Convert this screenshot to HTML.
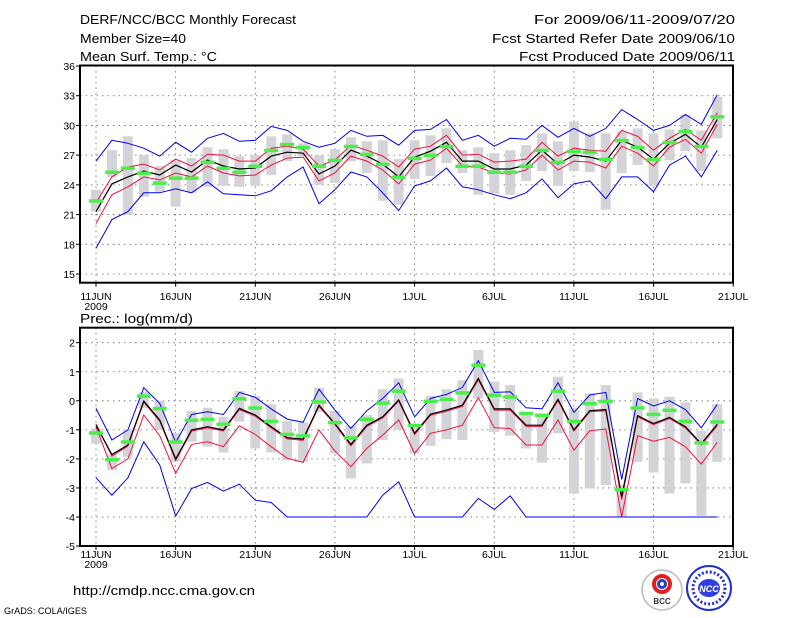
<!DOCTYPE html>
<html><head><meta charset="utf-8"><style>
html,body{margin:0;padding:0;background:#fff;}
svg{display:block;font-family:"Liberation Sans",sans-serif;}
</style></head><body>
<svg id="chart" width="800" height="618" viewBox="0 0 800 618" xmlns="http://www.w3.org/2000/svg">
<rect width="800" height="618" fill="#fff"/>
<g font-size="12.5" fill="#000">
<text x="80" y="24" textLength="216" lengthAdjust="spacingAndGlyphs">DERF/NCC/BCC Monthly Forecast</text>
<text x="80" y="43" textLength="106" lengthAdjust="spacingAndGlyphs">Member Size=40</text>
<text x="80" y="61" textLength="137" lengthAdjust="spacingAndGlyphs">Mean Surf. Temp.: °C</text>
<text x="735" y="24" text-anchor="end" textLength="201" lengthAdjust="spacingAndGlyphs">For 2009/06/11-2009/07/20</text>
<text x="735" y="43" text-anchor="end" textLength="243" lengthAdjust="spacingAndGlyphs">Fcst Started Refer Date 2009/06/10</text>
<text x="735" y="61" text-anchor="end" textLength="216" lengthAdjust="spacingAndGlyphs">Fcst Produced Date 2009/06/11</text>
</g>
<text x="80" y="323" font-size="12.5" textLength="113" lengthAdjust="spacingAndGlyphs">Prec.: log(mm/d)</text>
<g id="top"></g>
<g id="bot"></g>
<text x="73" y="595" font-size="12.5" textLength="182" lengthAdjust="spacingAndGlyphs">http://cmdp.ncc.cma.gov.cn</text>
<text x="4" y="614" font-size="9.5" textLength="83" lengthAdjust="spacingAndGlyphs">GrADS: COLA/IGES</text>
<g>
<circle cx="662" cy="590" r="20" fill="#fff" stroke="#bbb" stroke-width="1.5"/>
<circle cx="662" cy="584" r="8" fill="none" stroke="#e02020" stroke-width="4"/>
<circle cx="662" cy="584" r="3.5" fill="none" stroke="#2040c0" stroke-width="3"/>
<text x="662" y="604" font-size="8" font-weight="bold" text-anchor="middle" fill="#333">BCC</text>
</g>
<g>
<circle cx="709" cy="588" r="22" fill="#fff" stroke="#2030d0" stroke-width="2"/>
<circle cx="709" cy="588" r="16" fill="none" stroke="#2030d0" stroke-width="3" stroke-dasharray="2 2"/>
<ellipse cx="709" cy="588" rx="11" ry="9" fill="#3040e0"/>
<text x="709" y="592" font-size="9" font-weight="bold" font-style="italic" text-anchor="middle" fill="#fff">NCC</text>
</g>
</svg>
<script>
// ---------- temperature data (days 0..39 from 11 Jun) ----------
const tBlueHi=[26.4,28.5,28.2,27.7,26.9,28.3,27.3,28.7,29.2,28.4,28.5,29.9,29.5,28.4,27.8,28.2,29.5,28.9,29.0,28.0,29.5,29.6,30.6,28.5,29.0,27.9,28.7,28.6,30.0,28.8,29.7,28.9,29.7,31.6,30.6,29.5,30.0,31.1,30.1,33.1];
const tBlueLo=[17.6,20.5,21.3,23.2,23.2,23.6,23.2,24.3,23.1,23.0,22.9,23.4,24.8,25.8,22.1,23.5,25.3,24.8,23.2,21.4,23.9,24.4,25.7,23.8,23.5,23.0,22.6,23.2,24.6,22.7,24.1,24.4,22.6,24.8,24.8,23.3,26.0,26.9,24.8,27.5];
const tMean=[21.3,24.1,24.8,25.4,25.0,26.0,25.3,26.5,25.9,25.6,25.7,26.9,27.3,27.2,25.1,25.9,27.5,26.9,26.1,24.8,26.8,27.4,28.3,26.4,26.4,25.6,25.6,26.0,27.5,26.1,27.0,26.8,26.4,28.5,27.8,26.6,28.2,29.1,27.8,30.6];
const tRedHi=[22.2,24.8,25.8,26.1,25.5,26.6,25.9,27.1,27.0,26.4,26.4,27.7,27.9,27.6,25.9,26.5,28.0,27.5,26.9,25.8,27.6,27.9,29.0,27.0,27.1,26.3,26.4,26.6,28.3,26.9,27.7,27.5,27.4,29.5,28.9,27.5,28.7,29.6,28.5,31.3];
const tRedLo=[20.1,23.0,23.8,24.8,24.5,25.2,24.8,25.9,25.2,24.9,25.0,26.0,26.7,26.8,24.4,25.2,26.9,26.4,25.5,24.1,26.1,26.5,27.7,25.9,25.8,25.2,25.1,25.5,27.0,25.5,26.4,26.3,25.7,27.9,27.2,25.9,27.8,28.6,27.2,30.1];
const tObs=[22.4,25.3,25.7,25.2,24.2,24.7,24.7,26.3,25.7,25.3,25.9,27.5,28.1,27.8,25.9,26.5,27.9,27.1,26.1,24.8,26.7,27.0,27.9,25.9,25.9,25.3,25.3,25.9,27.5,26.3,27.4,27.3,26.6,28.5,27.8,26.6,28.3,29.4,27.9,30.9];
const tBarHi=[23.5,27.5,28.9,27.0,25.9,26.5,26.7,27.8,27.6,26.9,27.0,28.9,29.1,28.2,27.0,27.6,28.8,28.4,28.5,26.6,28.5,29.0,29.7,27.5,27.8,27.2,27.5,28.0,29.2,28.4,30.4,29.2,29.2,29.4,29.7,29.2,29.6,31.1,29.5,32.9];
const tBarLo=[21.3,24.8,21.0,22.8,23.3,21.8,23.2,23.8,23.9,23.8,23.9,25.0,26.4,26.9,24.0,24.2,26.4,25.2,22.4,22.0,24.6,24.9,26.2,25.2,23.0,23.1,23.0,24.4,25.4,23.9,25.4,25.3,21.5,25.2,26.0,23.9,26.5,27.4,25.4,28.7];
const tTicks=[15,18,21,24,27,30,33,36];
// ---------- precipitation data ----------
const pBlueHi=[-0.26,-1.35,-1.0,0.45,-0.09,-1.43,-0.47,-0.38,-0.47,0.29,0.12,-0.28,-0.63,-0.74,0.40,-0.32,-0.95,-0.34,0.08,0.62,-0.55,0.08,0.22,0.46,1.38,0.29,0.31,-0.24,-0.28,0.62,-0.40,0.20,0.29,-2.71,0.08,-0.18,0.0,-0.30,-0.93,-0.12];
const pBlueLo=[-2.65,-3.25,-2.65,-1.41,-2.21,-3.97,-3.02,-2.81,-3.11,-2.87,-3.42,-3.50,-4,-4,-4,-4,-4,-4,-3.25,-2.79,-4,-4,-4,-4,-3.36,-3.74,-3.27,-4,-4,-4,-4,-4,-4,-4,-4,-4,-4,-4,-4,-4];
const pMean=[-0.84,-1.85,-1.52,-0.01,-0.66,-2.0,-1.0,-0.89,-1.0,-0.26,-0.49,-0.89,-1.27,-1.32,-0.15,-0.78,-1.50,-0.84,-0.55,0.03,-1.12,-0.46,-0.32,-0.15,0.77,-0.28,-0.28,-0.84,-0.84,0.05,-1.0,-0.34,-0.30,-3.30,-0.51,-0.78,-0.57,-0.89,-1.47,-0.81];
const pRedHi=[-0.80,-1.90,-1.56,-0.05,-0.70,-2.05,-1.04,-0.93,-1.04,-0.30,-0.53,-0.93,-1.31,-1.36,-0.19,-0.82,-1.55,-0.88,-0.59,-0.01,-1.16,-0.50,-0.36,-0.19,0.72,-0.32,-0.32,-0.88,-0.88,0.01,-1.04,-0.38,-0.34,-3.4,-0.55,-0.82,-0.61,-0.93,-1.52,-0.85];
const pRedLo=[-0.9,-2.33,-2.0,-0.49,-1.2,-2.5,-1.5,-1.41,-1.58,-0.86,-1.16,-1.58,-1.98,-2.12,-1.0,-1.73,-2.27,-1.64,-1.18,-0.66,-1.81,-1.12,-1.0,-0.84,0.11,-0.93,-0.95,-1.52,-1.52,-0.66,-1.70,-1.03,-0.97,-4.0,-1.2,-1.39,-1.26,-1.58,-2.18,-1.43];
const pObs=[-1.1,-2.02,-1.41,0.17,-0.26,-1.41,-0.66,-0.63,-0.8,0.08,-0.24,-0.70,-1.15,-1.2,-0.03,-0.74,-1.27,-0.63,-0.07,0.34,-0.84,-0.01,0.06,0.28,1.23,0.2,0.14,-0.43,-0.49,0.34,-0.70,-0.09,-0.01,-3.05,-0.24,-0.46,-0.32,-0.70,-1.44,-0.72];
const pBarHi=[-0.95,-1.87,-1.0,0.31,0.0,-1.12,-0.35,-0.24,-0.55,0.34,0.16,-0.12,-0.70,-0.74,0.45,-0.35,-0.86,-0.49,0.40,0.77,-0.89,0.17,0.40,0.71,1.75,0.66,0.54,-0.38,-0.49,0.83,-0.26,0.25,0.54,-2.9,0.29,0.08,0.14,-0.05,-1.04,-0.12];
const pBarLo=[-1.47,-2.39,-1.93,-0.26,-1.0,-2.1,-1.41,-1.58,-1.78,-0.72,-1.64,-1.78,-2.04,-2.1,-0.38,-1.81,-2.67,-2.16,-1.35,-1.0,-1.81,-1.55,-1.32,-1.35,0.08,-1.07,-1.2,-1.64,-2.13,-1.12,-3.19,-3.02,-2.9,-4.0,-2.10,-2.47,-3.19,-2.84,-3.96,-2.1];
const pTicks=[-5,-4,-3,-2,-1,0,1,2];
const xTickDays=[0,5,10,15,20,25,30,35,40];
const xTickLabels=["11JUN","16JUN","21JUN","26JUN","1JUL","6JUL","11JUL","16JUL","21JUL"];

const NS="http://www.w3.org/2000/svg";
const X0=80,X1=733;
function xS(d){return 96+d*15.93;}
function mk(parent,tag,attrs){const e=document.createElementNS(NS,tag);for(const k in attrs)e.setAttribute(k,attrs[k]);parent.appendChild(e);return e;}

function panel(g,cfg){
  const {yS,top,bot,ticks,barHi,barLo,obs,blueHi,blueLo,redHi,redLo,mean,lblY,prefix}=cfg;
  ticks.forEach(t=>{const y=yS(t);
    const l=mk(g,'line',{x1:X0,x2:X1,y1:y,y2:y,stroke:'#666','stroke-width':0.8,'stroke-dasharray':'1.5 4'});
    
    
    mk(g,'line',{x1:X0-4,x2:X0,y1:y,y2:y,stroke:'#000'});
    const tx=mk(g,'text',{x:X0-5,y:y+4,'font-size':10.5,'text-anchor':'end'});tx.textContent=t;
    
    
  });
  xTickDays.forEach((d,i)=>{const x=xS(d);
    if(d<40){const l=mk(g,'line',{x1:x,x2:x,y1:top,y2:bot,stroke:'#666','stroke-width':0.8,'stroke-dasharray':'1.5 4'});
      
      }
    mk(g,'line',{x1:x,x2:x,y1:bot,y2:bot+4,stroke:'#000'});
    const tx=mk(g,'text',{x:x,y:lblY,'font-size':10.5,'text-anchor':'middle'});tx.textContent=xTickLabels[i];
    
    
  });
  const yr=mk(g,'text',{x:xS(0),y:lblY+10,'font-size':10.5,'text-anchor':'middle'});yr.textContent='2009';
  
  
  barHi.forEach((v,d)=>{const y1=yS(v),y2=yS(barLo[d]);
    const r=mk(g,'rect',{x:xS(d)-5,y:y1,width:10,height:Math.max(1,y2-y1),fill:'#d4d4d8'});
    
    
  });
  function line(arr,color,w,name){
    const p=mk(g,'polyline',{points:arr.map((v,d)=>xS(d).toFixed(1)+','+yS(v).toFixed(1)).join(' '),fill:'none',stroke:color,'stroke-width':w});
    
    
  }
  line(blueHi,'#0000ee',1,prefix+'-max-line');
  line(blueLo,'#0000ee',1,prefix+'-min-line');
  line(redHi,'#ee1040',1,prefix+'-upper-line');
  line(redLo,'#ee1040',1,prefix+'-lower-line');
  line(mean,'#000',1.2,prefix+'-mean-line');
  obs.forEach((v,d)=>{
    const r=mk(g,'rect',{x:xS(d)-7,y:yS(v)-1.5,width:14,height:3.5,fill:'#4cee4c'});
    
    
  });
  const f=mk(g,'rect',{x:X0,y:top,width:X1-X0,height:bot-top,fill:'none',stroke:'#000','stroke-width':2});
  
  
}
panel(document.getElementById('top'),{yS:v=>66+(36-v)*9.905,top:65.5,bot:282.7,ticks:tTicks,barHi:tBarHi,barLo:tBarLo,obs:tObs,blueHi:tBlueHi,blueLo:tBlueLo,redHi:tRedHi,redLo:tRedLo,mean:tMean,lblY:300,prefix:'temp'});
panel(document.getElementById('bot'),{yS:v=>342.7+(2-v)*29.05,top:327.7,bot:546,ticks:pTicks,barHi:pBarHi,barLo:pBarLo,obs:pObs,blueHi:pBlueHi,blueLo:pBlueLo,redHi:pRedHi,redLo:pRedLo,mean:pMean,lblY:558,prefix:'precip'});
</script>
</body></html>
